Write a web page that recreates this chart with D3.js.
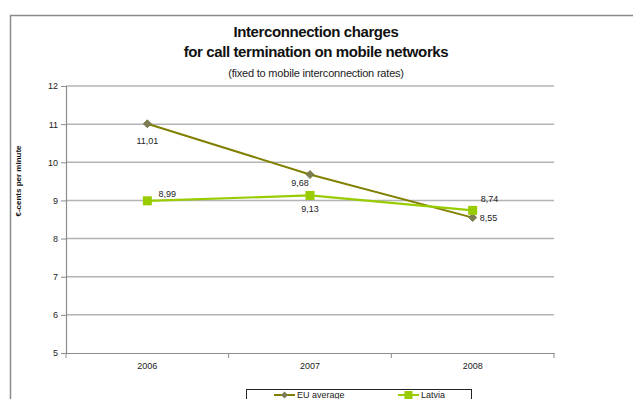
<!DOCTYPE html>
<html><head><meta charset="utf-8">
<script src="https://cdn.jsdelivr.net/npm/d3@7"></script>
<style>
html,body{margin:0;padding:0;background:#fff;overflow:hidden}
svg{display:block;font-family:"Liberation Sans",Arial,sans-serif}
</style></head>
<body>
<script>
const years = ["2006", "2007", "2008"];
const euAverage = [11.01, 9.68, 8.55];
const latvia = [8.99, 9.13, 8.74];
const yTicks = [5, 6, 7, 8, 9, 10, 11, 12];
const seriesNames = ["EU average", "Latvia"];
const titleLines = ["Interconnection charges", "for call termination on mobile networks"];
const subtitle = "(fixed to mobile interconnection rates)";
const yLabel = "€-cents per minute";

const W = 633, H = 399;
const svg = d3.select("body").append("svg").attr("width", W).attr("height", H);

// outer frame
svg.append("path").attr("d", "M10.5,420 L10.5,15.5 L660,15.5")
  .attr("fill", "none").attr("stroke", "#8c8c8c").attr("stroke-width", 1.5);

const x = d3.scaleBand().domain(years).range([66, 554]);
const y = d3.scaleLinear().domain([5, 12]).range([353, 86]);
const cx = d => x(d) + x.bandwidth() / 2;

// gridlines
svg.append("g").selectAll("line").data(yTicks.filter(t => t > 5)).join("line")
  .attr("x1", 66).attr("x2", 554)
  .attr("y1", d => y(d)).attr("y2", d => y(d))
  .attr("stroke", "#b4b4b4").attr("stroke-width", 1.5);

// y axis
const yAxis = d3.axisLeft(y).tickValues(yTicks).tickFormat(d3.format("d")).tickSize(5).tickPadding(3);
const gy = svg.append("g").attr("transform", "translate(66,0)").call(yAxis);
gy.select(".domain").attr("stroke", "#8c8c8c").attr("stroke-width", 1.2);
gy.selectAll(".tick line").attr("stroke", "#8c8c8c");
gy.selectAll(".tick text").attr("font-size", 9).attr("fill", "#222")
  .attr("font-family", "Liberation Sans, Arial, sans-serif");

// x axis
const xAxis = d3.axisBottom(x).tickSize(0).tickPadding(10);
const gx = svg.append("g").attr("transform", "translate(0,353)").call(xAxis);
gx.select(".domain").attr("stroke", "#8c8c8c").attr("stroke-width", 1.2);
gx.selectAll(".tick text").attr("font-size", 9).attr("fill", "#222")
  .attr("font-family", "Liberation Sans, Arial, sans-serif");
// category boundary ticks
const bounds = years.map(d => x(d)).concat([x(years[years.length - 1]) + x.bandwidth()]);
svg.append("g").selectAll("line").data(bounds).join("line")
  .attr("x1", d => d).attr("x2", d => d).attr("y1", 353).attr("y2", 358)
  .attr("stroke", "#8c8c8c");

// titles
svg.append("text").attr("x", 316).attr("y", 37).attr("text-anchor", "middle")
  .attr("font-size", 15).attr("font-weight", "bold").attr("fill", "#111")
  .attr("letter-spacing", -0.4).text(titleLines[0]);
svg.append("text").attr("x", 316).attr("y", 57).attr("text-anchor", "middle")
  .attr("font-size", 15).attr("font-weight", "bold").attr("fill", "#111")
  .attr("letter-spacing", -0.4).text(titleLines[1]);
svg.append("text").attr("x", 316).attr("y", 77).attr("text-anchor", "middle")
  .attr("font-size", 11).attr("fill", "#222").attr("letter-spacing", -0.2).text(subtitle);

// y label
svg.append("text").attr("transform", "translate(21,181) rotate(-90)")
  .attr("text-anchor", "middle").attr("font-size", 8).attr("font-weight", "bold")
  .attr("fill", "#111").text(yLabel);

const line = d3.line().x(d => cx(d.year)).y(d => y(d.v));
const euData = years.map((yr, i) => ({year: yr, v: euAverage[i]}));
const lvData = years.map((yr, i) => ({year: yr, v: latvia[i]}));

// EU line
svg.append("path").datum(euData).attr("d", line)
  .attr("fill", "none").attr("stroke", "#808000").attr("stroke-width", 2);
// Latvia line
svg.append("path").datum(lvData).attr("d", line)
  .attr("fill", "none").attr("stroke", "#99cc00").attr("stroke-width", 2.2);

// markers
svg.append("g").selectAll("path").data(euData).join("path")
  .attr("transform", d => `translate(${cx(d.year)},${y(d.v)})`)
  .attr("d", "M0,-4 L4,0 L0,4 L-4,0 Z")
  .attr("fill", "#7c7c55").attr("stroke", "#6f6f30").attr("stroke-width", 0.8);
svg.append("g").selectAll("rect").data(lvData).join("rect")
  .attr("x", d => cx(d.year) - 4.5).attr("y", d => y(d.v) - 4.5)
  .attr("width", 9).attr("height", 9).attr("fill", "#99cc00");

// data labels
const fmt = v => d3.format(".2f")(v).replace(".", ",");
const euOff = [[0, 17, "middle"], [-10, 8, "middle"], [7, 0, "start"]];
const lvOff = [[20, -7, "middle"], [0, 13, "middle"], [8, -11, "start"]];
function labels(data, offs) {
  svg.append("g").selectAll("text").data(data).join("text")
    .attr("x", (d, i) => cx(d.year) + offs[i][0])
    .attr("y", (d, i) => y(d.v) + offs[i][1])
    .attr("dy", "0.35em")
    .attr("text-anchor", (d, i) => offs[i][2])
    .attr("font-size", 9).attr("fill", "#222").text(d => fmt(d.v));
}
labels(euData, euOff);
labels(lvData, lvOff);

// legend
const lg = svg.append("g");
lg.append("rect").attr("x", 246.5).attr("y", 389.5).attr("width", 225).attr("height", 30)
  .attr("fill", "#fff").attr("stroke", "#222").attr("stroke-width", 1);
const ly = 395;
lg.append("line").attr("x1", 274).attr("x2", 295).attr("y1", ly).attr("y2", ly)
  .attr("stroke", "#808000").attr("stroke-width", 2);
lg.append("path").attr("transform", `translate(284.5,${ly})`).attr("d", "M0,-3.5 L3.5,0 L0,3.5 L-3.5,0 Z")
  .attr("fill", "#7c7c55");
lg.append("text").attr("x", 297).attr("y", ly).attr("dy", "0.35em").attr("font-size", 9)
  .attr("fill", "#222").text(seriesNames[0]);
lg.append("line").attr("x1", 398).attr("x2", 419).attr("y1", ly).attr("y2", ly)
  .attr("stroke", "#99cc00").attr("stroke-width", 2);
lg.append("rect").attr("x", 404.5).attr("y", ly - 4).attr("width", 8).attr("height", 8)
  .attr("fill", "#99cc00");
lg.append("text").attr("x", 421).attr("y", ly).attr("dy", "0.35em").attr("font-size", 9)
  .attr("fill", "#222").text(seriesNames[1]);
</script>
</body></html>
